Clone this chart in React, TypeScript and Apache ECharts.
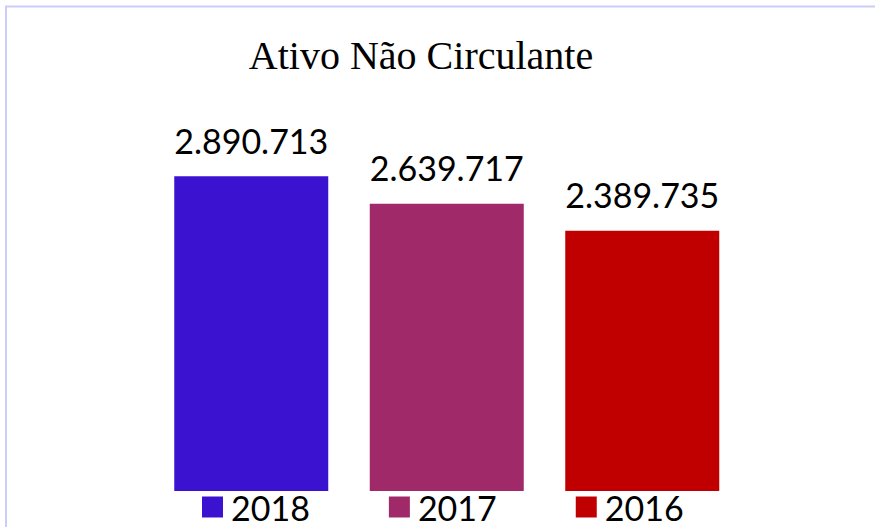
import React, { useEffect, useRef } from "react";
import * as echarts from "echarts";

const categories = ["2018", "2017", "2016"];
const seriesNames = ["2018", "2017", "2016"];
const seriesValues = [2890713, 2639717, 2389735];
const seriesColors = ["#3b12d0", "#a0296a", "#c00000"];
const titleText = "Ativo Não Circulante";

function fmt(v: number): string {
  return String(v).replace(/\B(?=(\d{3})+(?!\d))/g, ".");
}

export default function App() {
  const ref = useRef<HTMLDivElement>(null);
  useEffect(() => {
    if (!ref.current) return;
    const chart = echarts.init(ref.current, undefined, { renderer: "svg" });
    const labelFont = "Lato";
    chart.setOption({
      animation: false,
      backgroundColor: "#ffffff",
      graphic: [
        {
          type: "rect",
          shape: { x: 6, y: 6.5, width: 1000, height: 1000 },
          style: { fill: "none", stroke: "#ccccfa", lineWidth: 2 },
          silent: true,
        },
        {
          type: "text",
          x: 421,
          y: 55.5,
          style: {
            text: titleText,
            fontFamily: "Liberation Serif",
            fontSize: 40,
            fill: "#000000",
            align: "center",
            verticalAlign: "middle",
          },
        },
      ],
      legend: {
        data: seriesNames,
        left: 197,
        top: 485,
        icon: "rect",
        itemWidth: 21,
        itemHeight: 21,
        itemGap: 79,
        textStyle: { fontFamily: labelFont, fontSize: 34, lineHeight: 34, color: "#000000", padding: [0, 0, 0, 3] },
      },
      grid: { left: 153.5, right: 135, top: 110, bottom: 36, containLabel: false },
      xAxis: {
        type: "category",
        data: categories,
        show: false,
      },
      yAxis: {
        type: "value",
        min: 0,
        max: 3500000,
        show: false,
        splitLine: { show: false },
      },
      series: seriesNames.map((name, i) => ({
        name,
        type: "bar",
        stack: "total",
        barWidth: 154,
        data: categories.map((_, j) => (j === i ? seriesValues[i] : "-")),
        itemStyle: { color: seriesColors[i] },
        label: {
          show: true,
          position: "top",
          distance: 19,
          formatter: (p: any) => fmt(p.value),
          fontFamily: labelFont,
          fontSize: 34,
          color: "#000000",
        },
      })),
    });
    return () => chart.dispose();
  }, []);
  return (
    <div
      ref={ref}
      style={{ position: "fixed", left: 0, top: 0, width: 875, height: 527 }}
    />
  );
}
